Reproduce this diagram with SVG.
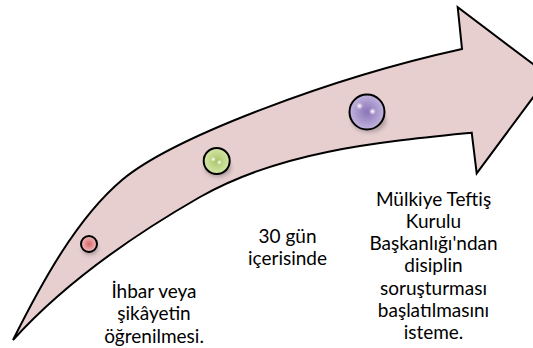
<svg xmlns="http://www.w3.org/2000/svg" width="533" height="348" viewBox="0 0 533 348">
<style>
.lbl{font-family:Lato,"Open Sans","Liberation Sans",sans-serif;font-size:19px;fill:#000;text-anchor:middle}
.dot{stroke:#000;stroke-width:2}
</style>
<defs>
<radialGradient id="gRed" cx="0.5" cy="0.5" r="0.5">
<stop offset="0" stop-color="#D8676A"/>
<stop offset="1" stop-color="#F0BEC0"/>
</radialGradient>
<radialGradient id="gGreen" cx="0.5" cy="0.5" r="0.5">
<stop offset="0" stop-color="#A9C66A"/>
<stop offset="1" stop-color="#D6E6A8"/>
</radialGradient>
<radialGradient id="gPurple" cx="0.5" cy="0.5" r="0.5">
<stop offset="0" stop-color="#8A74B6"/>
<stop offset="1" stop-color="#C2B4DE"/>
</radialGradient>
<radialGradient id="hl" cx="0.5" cy="0.5" r="0.5">
<stop offset="0" stop-color="#fff" stop-opacity="1"/>
<stop offset="1" stop-color="#fff" stop-opacity="0"/>
</radialGradient>
<filter id="sh" x="-50%" y="-50%" width="200%" height="200%">
<feGaussianBlur stdDeviation="2"/>
</filter>
</defs>
<g id="connectors">
<path id="arrow" d="M13,340 C42,282 77,218 122,180 C172,138 330,78 462,49 L457.7,7.3 L549,76 L476.7,173.3 L471.7,132.7 C379,142 281,151 200,197 C132,236 65.5,282 13,340 Z" fill="#E7CFD0" stroke="#000" stroke-width="2" stroke-linejoin="miter"/>
</g>
<g id="node-red">
<ellipse cx="90" cy="249" rx="8" ry="6" fill="#000" opacity="0.25" filter="url(#sh)"/>
<circle class="dot" cx="89" cy="244" r="8" fill="url(#gRed)"/>
</g>
<g id="node-green">
<ellipse cx="218" cy="168" rx="13" ry="9" fill="#000" opacity="0.25" filter="url(#sh)"/>
<circle class="dot" cx="216.7" cy="161" r="13" fill="url(#gGreen)"/>
<circle cx="213.3" cy="159.3" r="2.5" fill="url(#hl)"/>
<circle cx="219.3" cy="162.3" r="2.5" fill="url(#hl)"/>
</g>
<g id="node-purple">
<ellipse cx="369" cy="121" rx="17" ry="11" fill="#000" opacity="0.25" filter="url(#sh)"/>
<circle class="dot" cx="367" cy="112" r="17.5" fill="url(#gPurple)"/>
<circle cx="359.5" cy="106" r="3.5" fill="url(#hl)"/>
<circle cx="372.5" cy="111.5" r="3.5" fill="url(#hl)"/>
</g>
<g id="label-1">
<text class="lbl" x="154" y="297.5">İhbar veya</text>
<text class="lbl" x="154" y="320">şikâyetin</text>
<text class="lbl" x="154" y="342.5">öğrenilmesi.</text>
</g>
<g id="label-2">
<text class="lbl" x="287.5" y="243.3">30 gün</text>
<text class="lbl" x="287.5" y="265">içerisinde</text>
</g>
<g id="label-3">
<text class="lbl" x="433.5" y="205.5">Mülkiye Teftiş</text>
<text class="lbl" x="433.5" y="227.7">Kurulu</text>
<text class="lbl" x="433.5" y="250">Başkanlığı'ndan</text>
<text class="lbl" x="433.5" y="272.3">disiplin</text>
<text class="lbl" x="433.5" y="294.7">soruşturması</text>
<text class="lbl" x="433.5" y="316.8">başlatılmasını</text>
<text class="lbl" x="433.5" y="339">isteme.</text>
</g>
</svg>
